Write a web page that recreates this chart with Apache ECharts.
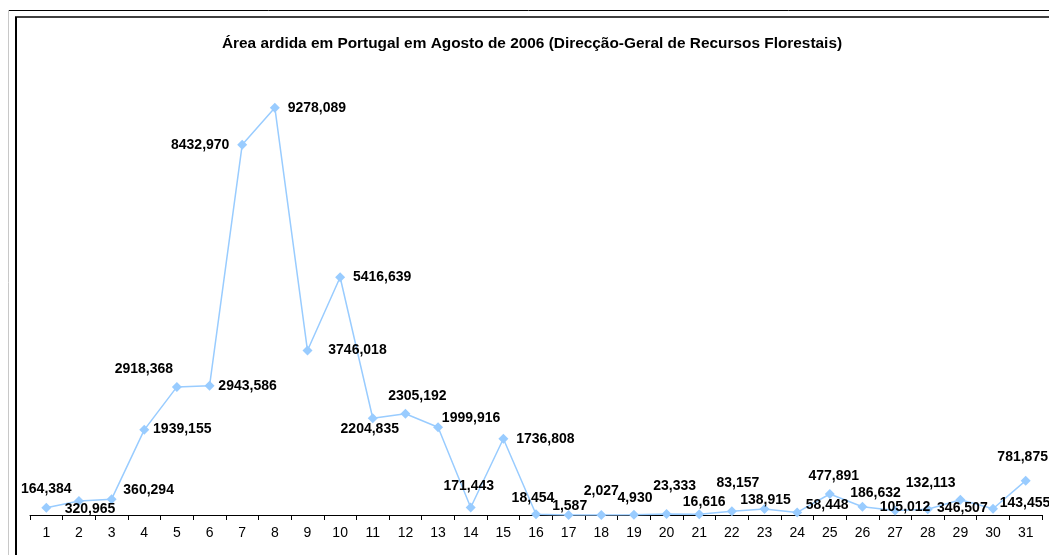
<!DOCTYPE html>
<html>
<head>
<meta charset="utf-8">
<script src="https://cdn.jsdelivr.net/npm/echarts@6/dist/echarts.min.js"></script>
<style>
html,body{margin:0;padding:0;background:#fff;}
#chart{width:1049px;height:555px;}
</style>
</head>
<body>
<div id="chart"></div>
<script>
const title = 'Área ardida em Portugal em Agosto de 2006 (Direcção-Geral de Recursos Florestais)';
const days = ['1','2','3','4','5','6','7','8','9','10','11','12','13','14','15','16','17','18','19','20','21','22','23','24','25','26','27','28','29','30','31'];
const burnedArea = [164.384, 320.965, 360.294, 1939.155, 2918.368, 2943.586, 8432.970, 9278.089, 3746.018, 5416.639,
  2204.835, 2305.192, 1999.916, 171.443, 1736.808, 18.454, 1.587, 2.027, 4.930, 23.333,
  16.616, 83.157, 138.915, 58.448, 477.891, 186.632, 105.012, 132.113, 346.507, 143.455, 781.875];
// label offsets (dx, dy) from each marker, in px
const labelOffsets = [[0,-19],[11,8],[37,-9],[38,-1],[-33,-18],[38,0],[-42,0],[42,0],[50,0],[42,0],
  [-3,11],[12,-18],[33,-9],[-2,-21],[42,0],[-3,-16],[1,-9],[0,-24],[1,-17],[8,-28],
  [5,-12],[6,-28],[1,-9],[30,-7],[4,-18],[13,-14],[10,-3],[3,-26],[2,8],[32,-6],[-3,-24]];

const SYM = 10;
const fmt = v => v.toFixed(3).replace('.', ',');
const chart = echarts.init(document.getElementById('chart'));
chart.setOption({
  animation: false,
  backgroundColor: '#fff',
  title: {
    text: title, left: 527, top: 31, textAlign: 'center',
    textStyle: {fontFamily: 'Liberation Sans, Arial', fontSize: 15.4, fontWeight: 'bold', color: '#000'}
  },
  grid: {left: 30, right: 7, top: 76, bottom: 40, containLabel: false},
  xAxis: {
    type: 'category', data: days, boundaryGap: true,
    axisLine: {lineStyle: {color: '#000', width: 1}},
    axisTick: {show: true, alignWithLabel: false, length: 5, lineStyle: {color: '#000'}},
    axisLabel: {color: '#000', fontFamily: 'Liberation Sans, Arial', fontSize: 14, margin: 11},
    splitLine: {show: false}
  },
  yAxis: {
    type: 'value', min: 0, max: 10000, show: false
  },
  series: [{
    type: 'line',
    data: burnedArea.map((v, i) => ({
      value: v,
      label: {position: [SYM / 2 + labelOffsets[i][0], SYM / 2 + labelOffsets[i][1]]}
    })),
    symbol: 'diamond', symbolSize: SYM,
    lineStyle: {color: '#99CCFF', width: 1.5},
    itemStyle: {color: '#99CCFF'},
    label: {
      show: true, align: 'center', verticalAlign: 'middle',
      formatter: p => fmt(p.value),
      color: '#000', fontFamily: 'Liberation Sans, Arial', fontSize: 14, fontWeight: 'bold'
    },
    labelLayout: {hideOverlap: false}
  }],
  graphic: [
    {type: 'line', shape: {x1: 8, y1: 10.5, x2: 1049, y2: 10.5}, style: {stroke: '#000', lineWidth: 1}, silent: true},
    {type: 'line', shape: {x1: 8.5, y1: 10, x2: 8.5, y2: 555}, style: {stroke: '#c8c8c8', lineWidth: 1}, silent: true},
    {type: 'line', shape: {x1: 15, y1: 17, x2: 1049, y2: 17}, style: {stroke: '#000', lineWidth: 1.5}, silent: true},
    {type: 'line', shape: {x1: 16, y1: 17, x2: 16, y2: 555}, style: {stroke: '#000', lineWidth: 2}, silent: true}
  ]
});
</script>
</body>
</html>
